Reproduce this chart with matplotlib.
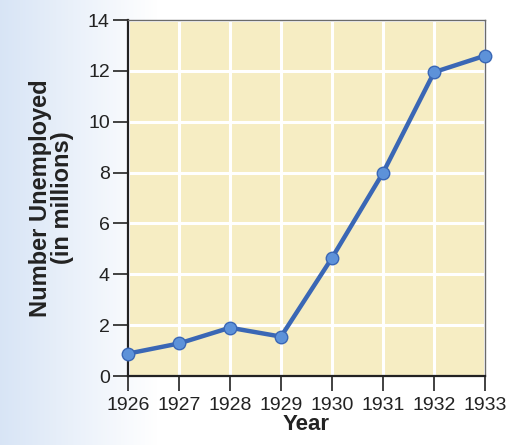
import numpy as np
import matplotlib
matplotlib.use("Agg")
import matplotlib.pyplot as plt
from matplotlib import font_manager

years = [1926, 1927, 1928, 1929, 1930, 1931, 1932, 1933]
unemployed = [0.88, 1.28, 1.9, 1.55, 4.65, 8.0, 11.95, 12.6]
yticks = [0, 2, 4, 6, 8, 10, 12, 14]

names = {f.name for f in font_manager.fontManager.ttflist}
narrow = 'Liberation Sans Narrow' if 'Liberation Sans Narrow' in names else 'Liberation Sans'
tick_size = 15.5 if narrow == 'Liberation Sans Narrow' else 14

fig = plt.figure(figsize=(5.24, 4.45), dpi=100)
fig.patch.set_facecolor('white')

# background gradient on the left
bg = fig.add_axes([0, 0, 1, 1], zorder=-10)
grad = np.linspace(0, 1, 300)
alpha = np.clip(1 - grad / 0.30, 0, 1) ** 1.0
img = np.ones((1, 300, 4))
img[..., 0] = 0.82
img[..., 1] = 0.88
img[..., 2] = 0.96
img[..., 3] = alpha * 0.85
bg.imshow(img, aspect='auto', extent=[0, 1, 0, 1])
bg.set_xlim(0, 1); bg.set_ylim(0, 1)
bg.axis('off')

ax = fig.add_axes([0.244, 0.155, 0.682, 0.80])
ax.set_facecolor('#f6edc3')
ax.plot(years, unemployed, color='#3a67b5', lw=3.2, zorder=3, clip_on=False,
        marker='o', ms=9, mfc='#5d92d9', mec='#3a67b5', mew=1.0)
ax.set_xlim(1926, 1933)
ax.set_ylim(0, 14)
ax.set_xticks(years)
ax.set_yticks(yticks)
ax.grid(True, color='white', lw=2.2, zorder=0)
ax.set_axisbelow(True)

for s in ['top', 'right']:
    ax.spines[s].set_color('#6b6b6b')
    ax.spines[s].set_linewidth(1.0)
for s in ['left', 'bottom']:
    ax.spines[s].set_color('#222222')
    ax.spines[s].set_linewidth(1.6)

ax.tick_params(axis='both', direction='out', length=11, width=1.3, color='#333333',
               labelsize=tick_size, labelcolor='#222222')
ax.tick_params(axis='x', pad=4)
ax.tick_params(axis='y', pad=2)
for lab in ax.get_xticklabels() + ax.get_yticklabels():
    lab.set_fontfamily(narrow)

ax.set_xlabel('Year', fontsize=16, fontweight='bold', fontfamily='Liberation Sans',
              color='#222222', labelpad=0)
ax.set_ylabel('Number Unemployed\n(in millions)', fontsize=17, fontweight='bold',
              fontfamily='Liberation Sans', color='#222222', labelpad=10,
              linespacing=0.95)

fig.savefig('out.png', dpi=100)
